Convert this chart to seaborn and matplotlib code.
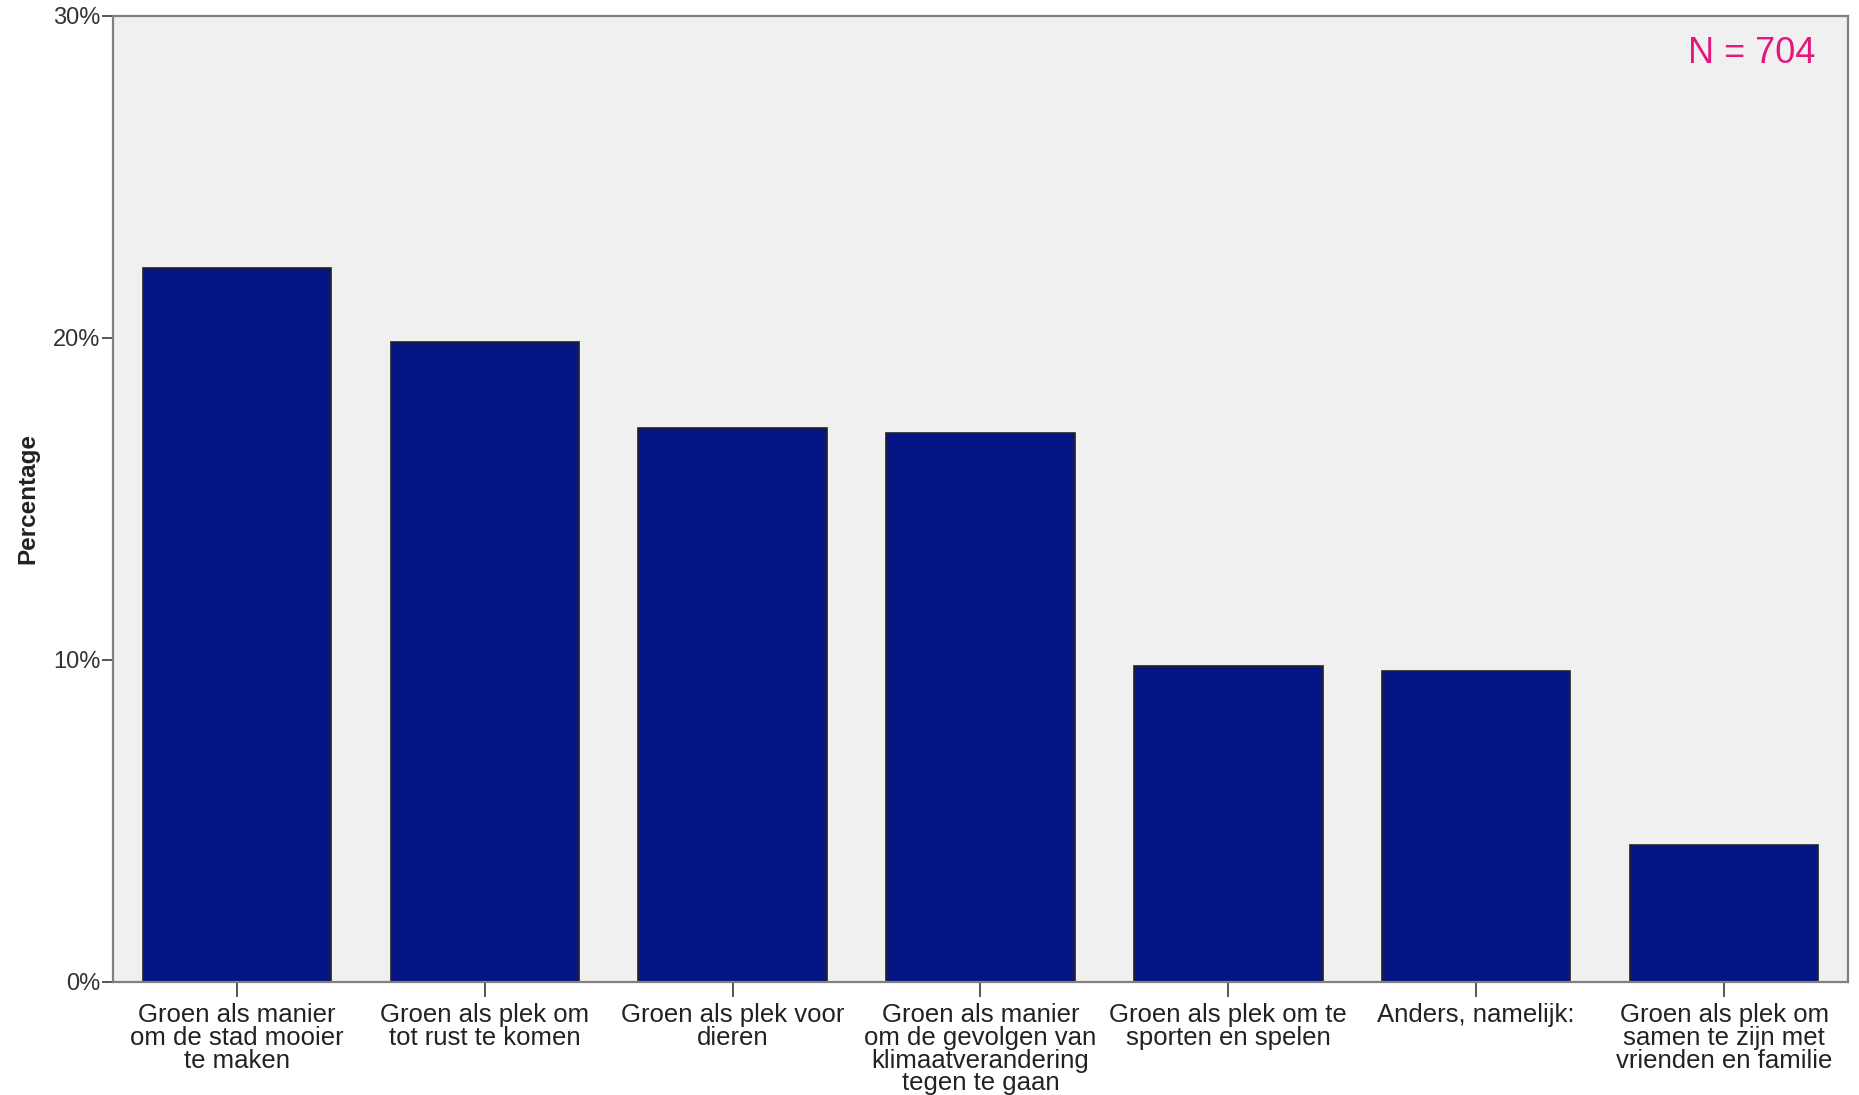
import matplotlib
matplotlib.use("Agg")
import matplotlib.pyplot as plt
import seaborn as sns
import pandas as pd
from matplotlib.ticker import FuncFormatter

categories = [
    "Groen als manier\nom de stad mooier\nte maken",
    "Groen als plek om\ntot rust te komen",
    "Groen als plek voor\ndieren",
    "Groen als manier\nom de gevolgen van\nklimaatverandering\ntegen te gaan",
    "Groen als plek om te\nsporten en spelen",
    "Anders, namelijk:",
    "Groen als plek om\nsamen te zijn met\nvrienden en familie",
]
percentages = [22.16, 19.89, 17.19, 17.05, 9.80, 9.66, 4.26]
y_ticks = [0, 10, 20, 30]
n_label = "N = 704"

sns.set_theme(style="white")
plt.rcParams["font.family"] = ["Liberation Sans Narrow", "Liberation Sans", "DejaVu Sans"]

df = pd.DataFrame({"cat": categories, "pct": percentages})

fig = plt.figure(figsize=(18.59, 10.95), dpi=100, facecolor="white")
ax = fig.add_axes([113 / 1859, 1 - 982 / 1095, 1735 / 1859, 966 / 1095])
ax.set_facecolor("#F0F0F0")

sns.barplot(data=df, x="cat", y="pct", color="#061584", saturation=1,
            width=0.76, edgecolor="#222222", linewidth=1.2, ax=ax)

ax.set_xlim(-0.5, len(categories) - 0.5)
ax.set_ylim(0, 30)
ax.set_yticks(y_ticks)
ax.yaxis.set_major_formatter(FuncFormatter(lambda v, p: f"{int(v)}%"))

for s in ax.spines.values():
    s.set_color("#808080")
    s.set_linewidth(1.6)
    s.set_visible(True)

ax.tick_params(axis="y", which="major", direction="out", length=8, width=1.4,
               color="#555555", labelsize=17, labelcolor="#333333", pad=1, left=True)
ax.tick_params(axis="x", which="major", direction="out", length=11, width=1.4,
               color="#555555", labelsize=18.5, labelcolor="#222222", pad=4, bottom=True)
for lbl in ax.get_xticklabels():
    lbl.set_linespacing(0.94)
    lbl.set_ha("center")

ax.set_xlabel("")
ax.set_ylabel("Percentage", fontsize=17.5, fontweight="bold", family="Liberation Sans",
              color="#222222", labelpad=10)

ax.text(0.981, 0.951, n_label, transform=ax.transAxes, ha="right", va="baseline",
        fontsize=26, color="#E5177F", family="Liberation Sans")

fig.savefig("out.png", dpi=100, facecolor="white")
